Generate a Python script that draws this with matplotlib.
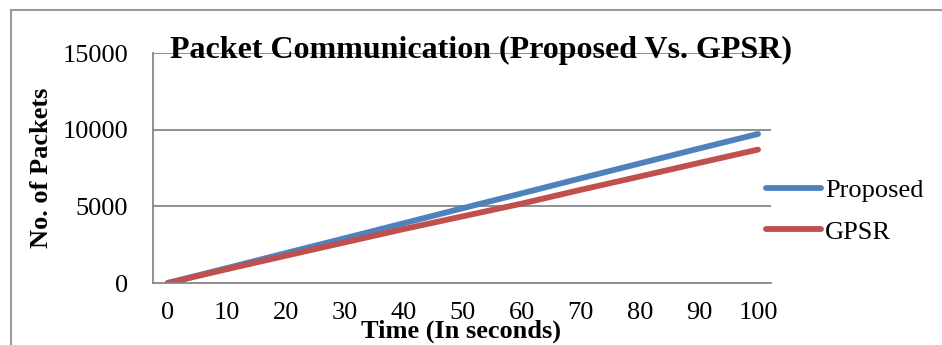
import matplotlib
matplotlib.use("Agg")
import matplotlib.pyplot as plt
from matplotlib.lines import Line2D

# data
time_s = [0, 10, 20, 30, 40, 50, 60, 70, 80, 90, 100]
proposed = [0, 970, 1950, 2920, 3900, 4880, 5850, 6830, 7800, 8770, 9720]
gpsr = [0, 900, 1780, 2650, 3520, 4350, 5180, 6080, 6950, 7830, 8700]
series_names = ["Proposed", "GPSR"]
y_ticks = [0, 5000, 10000, 15000]

plt.rcParams['font.family'] = ['Liberation Serif', 'DejaVu Serif']

fig = plt.figure(figsize=(9.42, 3.45), dpi=100)
ax = fig.add_axes([153/942, 1-283/345, (771-153)/942, (283-53)/345])

grid_col = '#878787'
ax.plot(time_s, proposed, color='#4F81BD', lw=4.2, solid_capstyle='round', label=series_names[0])
ax.plot(time_s, gpsr, color='#C0504D', lw=4.2, solid_capstyle='round', label=series_names[1])

ax.set_xlim(-2.5, 102.2)
ax.set_ylim(0, 15000)
ax.set_xticks(time_s)
ax.set_yticks(y_ticks)
ax.tick_params(axis='both', length=0, labelsize=19)
ax.tick_params(axis='x', pad=14)
ax.tick_params(axis='y', pad=18)
for y in y_ticks[1:]:
    ax.axhline(y, color=grid_col, lw=1.3, zorder=0)
for s in ['top', 'right']:
    ax.spines[s].set_visible(False)
ax.spines['left'].set_color(grid_col)
ax.spines['bottom'].set_color(grid_col)
ax.spines['left'].set_linewidth(1.3)
ax.spines['bottom'].set_linewidth(1.3)

fig.text(481/942, 1-50/345, "Packet Communication (Proposed Vs. GPSR)",
         ha='center', va='center', fontsize=23, fontweight='bold')
fig.text(461/942, 1-331/345, "Time (In seconds)", ha='center', va='center',
         fontsize=19, fontweight='bold')
fig.text(42/942, 1-168/345, "No. of Packets", ha='center', va='center',
         rotation=90, fontsize=19, fontweight='bold')

fig.legend(loc='center left', bbox_to_anchor=(766/942, 1-211/345), frameon=False,
           fontsize=19, borderpad=0, handlelength=2.1, handletextpad=0.15,
           labelspacing=0.7, borderaxespad=0)

# outer chart border (top and left)
fig.add_artist(Line2D([11/942, 1], [1-10/345, 1-10/345], color='#9a9a9a', lw=1.5))
fig.add_artist(Line2D([11/942, 11/942], [0, 1-10/345], color='#9a9a9a', lw=1.5))

fig.savefig("out.png", dpi=100)
